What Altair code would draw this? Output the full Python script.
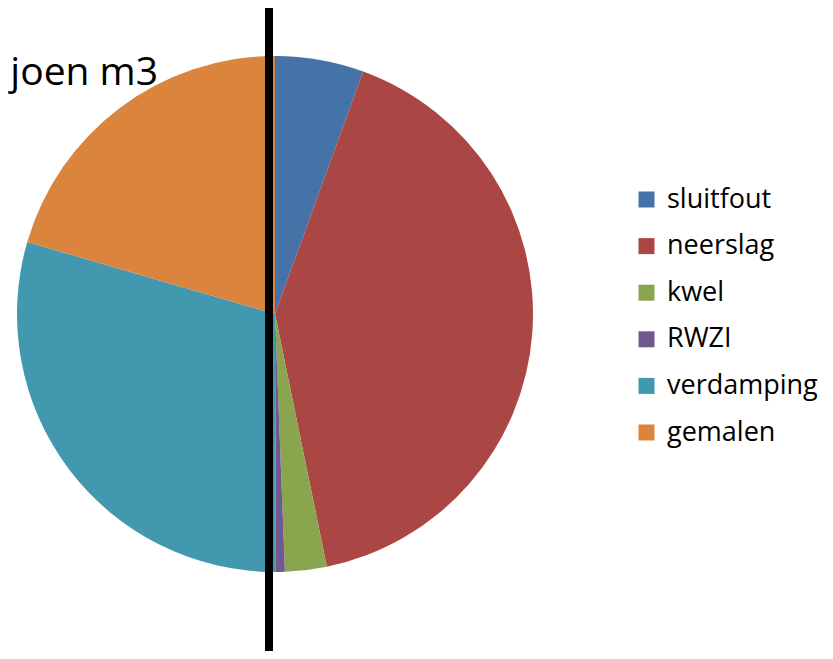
import altair as alt
import pandas as pd

categories = ["sluitfout", "neerslag", "kwel", "RWZI", "verdamping", "gemalen"]
values = [2.00, 14.84, 0.94, 0.20, 10.64, 7.38]
colors = ["#4572A7", "#AA4643", "#89A54E", "#71588F", "#4198AF", "#DB843D"]
title_text = ["joen m3"]

df = pd.DataFrame({"categorie": categories, "waarde": values, "volgorde": list(range(len(categories)))})

W, H = 817, 643

pie = alt.Chart(df).mark_arc(radius=258, stroke=None).encode(
    theta=alt.Theta("waarde:Q", stack=True),
    order=alt.Order("volgorde:Q", sort="ascending"),
    color=alt.Color(
        "categorie:N",
        sort=categories,
        scale=alt.Scale(domain=categories, range=colors),
        legend=alt.Legend(
            title=None,
            orient="none",
            legendX=625,
            legendY=178,
            symbolType="square",
            symbolSize=256,
            symbolStrokeWidth=0,
            labelFontSize=27,
            labelFont="Open Sans",
            labelColor="#000000",
            labelOffset=7,
            rowPadding=18.6,
            padding=0,
            labelLimit=300,
        ),
    ),
    x=alt.value(267),
    y=alt.value(306),
)

line = alt.Chart(pd.DataFrame({"a": [0]})).mark_rule(color="black", strokeWidth=8).encode(
    x=alt.value(261), y=alt.value(0), y2=alt.value(H)
)

txt = alt.Chart(pd.DataFrame({"t": title_text})).mark_text(
    align="right", baseline="alphabetic", fontSize=39, font="Open Sans", color="black"
).encode(text="t:N", x=alt.value(150), y=alt.value(77))

chart = alt.layer(pie, line, txt).properties(
    width=W, height=H, padding=0, autosize=alt.AutoSizeParams(type="none")
).configure_view(stroke=None)

chart.save("out.html", embed_options={"renderer": "svg", "actions": False})
